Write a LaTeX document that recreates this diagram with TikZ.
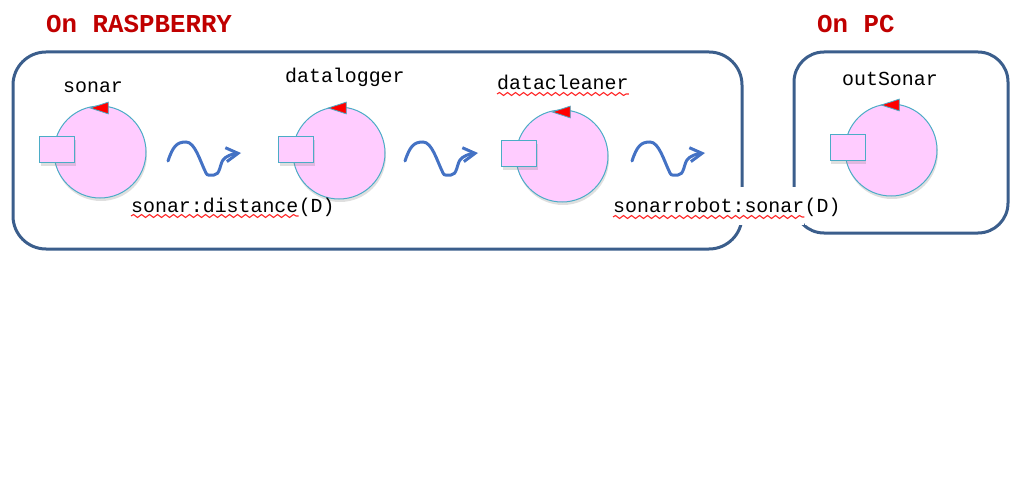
\documentclass[tikz,border=0pt]{standalone}
\usepackage{fontspec}
\setmonofont{Liberation Mono}
\usetikzlibrary{shapes.geometric,arrows.meta,shadows,decorations.pathmorphing}
\definecolor{boxblue}{HTML}{3B5E8C}
\definecolor{wavblue}{HTML}{4472C4}
\definecolor{pinkfill}{HTML}{FFCCFF}
\definecolor{tealline}{HTML}{4BACC6}
\definecolor{titlered}{HTML}{C00000}
\tikzset{
  hostbox/.style={
    rectangle,
    draw=boxblue,
    line width=3pt,
    outer sep=0pt
    },
  actor/.style={
    circle,
    minimum size=92pt,
    inner sep=0pt,
    line width=1pt,
    draw=tealline,
    fill=pinkfill,
    drop shadow={shadow xshift=1pt,shadow yshift=-3pt,opacity=.25}
    },
  port/.style={
    rectangle,
    minimum width=35pt,
    minimum height=26pt,
    inner sep=0pt,
    line width=1pt,
    draw=tealline,
    fill=pinkfill,
    drop shadow={shadow xshift=1pt,shadow yshift=-3pt,opacity=.25}
    },
  pointer/.style={
    isosceles triangle,
    isosceles triangle apex angle=36,
    shape border rotate=180,
    minimum height=18pt,
    inner sep=0pt,
    line width=.8pt,
    draw=tealline,
    fill=red,
    anchor=apex
    },
  title/.style={font=\ttfamily\bfseries\fontsize{25.8pt}{30pt}\selectfont,text=titlered,inner sep=0pt,anchor=base west},
  lbl/.style={font=\ttfamily\fontsize{19.9pt}{24pt}\selectfont,inner sep=0pt,anchor=base west},
  squiggle/.style={draw=red!85,line width=1.1pt,decorate,decoration={snake,amplitude=1.5pt,segment length=8pt}},
  wavearrow/.style={draw=wavblue,line width=3pt,line cap=round,-{Straight Barb[length=12pt,width=14pt]}},
}
\begin{document}
\begin{tikzpicture}[x=1pt,y=-1pt]
\useasboundingbox (0,0) rectangle (1025,497);

\node (raspberry) [hostbox, rounded corners=33pt, minimum width=729pt, minimum height=197pt, anchor=north west] at (13,52) {};
\node (pc) [hostbox, rounded corners=30pt, minimum width=214pt, minimum height=181pt, anchor=north west] at (794,52) {};

\node (onraspberry) [title] at (46,33) {On RASPBERRY};
\node (onpc) [title] at (817,33) {On PC};

\foreach \name/\cx/\cy/\px/\py/\ax/\ay in {sonar/100/152/57/150/89/108,
    datalogger/339/153/296/150/327/108,
    datacleaner/562/156/519/154/551/112,
    outSonar/891/150/847.5/148/880/105}{
  \node (\name) [actor] at (\cx,\cy) {};
  \node (\name port) [port] at (\px,\py) {};
  \node (\name tri) [pointer] at (\ax,\ay) {};
}

\node (sonarname) [lbl] at (63,93) {sonar};
\node (loggername) [lbl] at (285,83) {datalogger};
\node (cleanername) [lbl] at (497,90) {datacleaner};
\node (outname) [lbl] at (842,86) {outSonar};
\draw[squiggle] ([yshift=-4pt]cleanername.base west) -- ([yshift=-4pt]cleanername.base east);

\foreach \i/\x in {1/168,2/405,3/632}{
  \coordinate (wave\i a) at (\x,161);
  \coordinate (wave\i b) at (\x+73,153);
  \draw[wavearrow] (wave\i a) .. controls +(5,-15) and +(-9,0) .. ++(18,-19)
    .. controls +(9,0) and +(-6,-12) .. ++(20,31)
    .. controls +(1,3) and +(-4,0) .. ++(8,2)
    .. controls +(6,0) and +(-3,4) .. ++(9,-15)
    .. controls +(3,-4) and +(-9,1) .. (wave\i b);
}

\node (evdistance) [lbl] at (131,212) {sonar:distance};
\node (evdistanced) [lbl] at (evdistance.base east) {(D)};
\draw[squiggle] ([yshift=-4pt]evdistance.base west) -- ([yshift=-4pt]evdistance.base east);

% white patch of the label cuts both boxes
\node (evrobot) [lbl, fill=white, text height=26pt, text depth=12pt] at (613,213) {sonarrobot:sonar};
\node (evrobotd) [lbl, fill=white, text height=26pt, text depth=12pt] at (evrobot.base east) {(D)};
\draw[squiggle] ([yshift=-4pt]evrobot.base west) -- ([yshift=-4pt]evrobot.base east);

\end{tikzpicture}
\end{document}
